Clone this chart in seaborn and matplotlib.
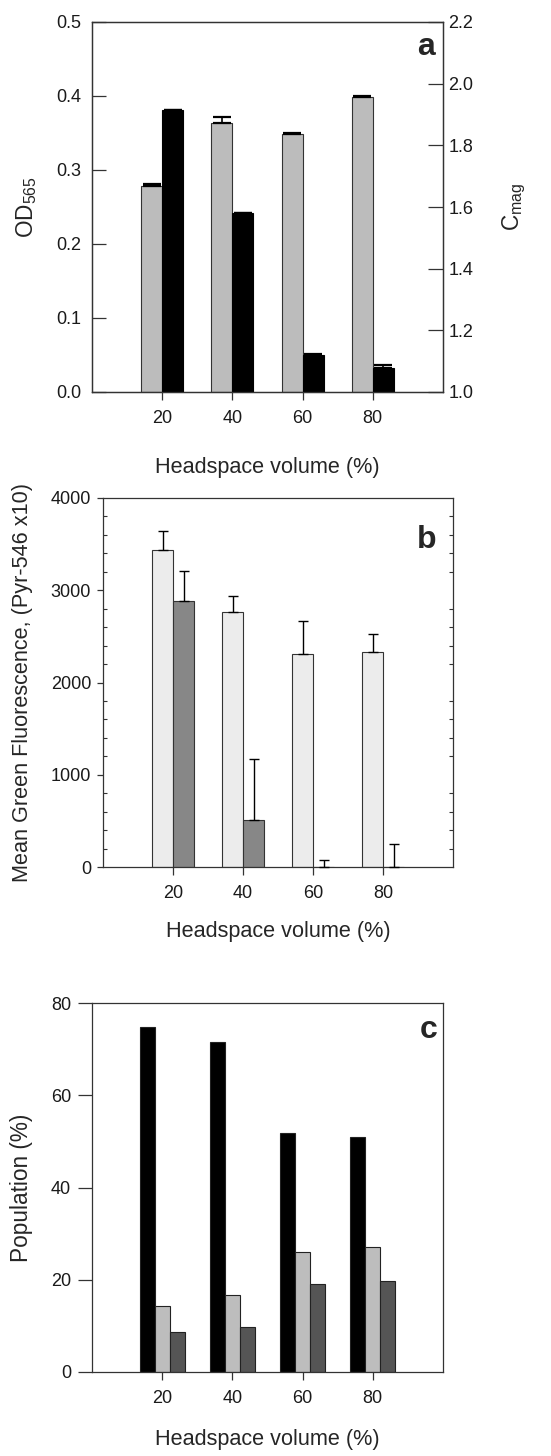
import numpy as np
import pandas as pd
import matplotlib
matplotlib.use("Agg")
import matplotlib.pyplot as plt
from matplotlib.ticker import MultipleLocator, FixedLocator
import seaborn as sns

# ---------------- data ----------------
volumes = [20, 40, 60, 80]

# panel a
od565 = [0.278, 0.363, 0.348, 0.398]
od565_err = [0.003, 0.008, 0.002, 0.002]
cmag = [1.913, 1.580, 1.120, 1.077]
cmag_err = [0.003, 0.002, 0.002, 0.012]

# panel b
fluor_light = [3440, 2761, 2309, 2331]
fluor_light_err = [199, 181, 362, 195]
fluor_dark = [2888, 506, 0, 0]
fluor_dark_err = [318, 669, 80, 253]

# panel c
pop_black = [74.9, 71.5, 51.8, 50.9]
pop_grey = [14.3, 16.8, 26.1, 27.2]
pop_dark = [8.6, 9.8, 19.1, 19.7]

xticks = [20, 40, 60, 80]
a_left_ticks = [0.0, 0.1, 0.2, 0.3, 0.4, 0.5]
a_right_ticks = [1.0, 1.2, 1.4, 1.6, 1.8, 2.0, 2.2]
b_ticks = [0, 1000, 2000, 3000, 4000]
c_ticks = [0, 20, 40, 60, 80]

xlabel = "Headspace volume (%)"

# ---------------- style ----------------
sns.set_style("white")
plt.rcParams['font.family'] = ['Liberation Sans', 'DejaVu Sans']
plt.rcParams['mathtext.default'] = 'regular'
SP = '#333333'
plt.rcParams['axes.edgecolor'] = SP
plt.rcParams['axes.linewidth'] = 0.9
plt.rcParams['xtick.color'] = SP
plt.rcParams['ytick.color'] = SP
plt.rcParams['xtick.labelcolor'] = '#1a1a1a'
plt.rcParams['ytick.labelcolor'] = '#1a1a1a'

fig = plt.figure(figsize=(5.51, 14.56), dpi=100)
ax_a = fig.add_axes([92/551, 1064/1456, 351/551, 370/1456])
ax_b = fig.add_axes([103/551, 589/1456, 350/551, 369/1456])
ax_c = fig.add_axes([92/551, 84/1456, 351/551, 369/1456])

TICK_FS = 13
XLAB_FS = 15.6
YLAB_FS = 16.3


def add_errs(ax, patches, errs, capsize, lw, capthick):
    xs = [p.get_x() + p.get_width() / 2 for p in patches]
    ys = [p.get_y() + p.get_height() for p in patches]
    ax.errorbar(xs, ys, yerr=[np.zeros(len(errs)), errs], fmt='none',
                ecolor='black', elinewidth=lw, capsize=capsize,
                capthick=capthick, zorder=5, clip_on=False)


# ---------------- panel a ----------------
a_order = ["OD", "Cmag"]
a_pal = {"OD": "#bcbcbc", "Cmag": "#000000"}
df_a_od = pd.DataFrame({"vol": volumes, "val": od565, "series": "OD"})
df_a_cm = pd.DataFrame({"vol": volumes, "val": cmag, "series": "Cmag"})

sns.barplot(data=df_a_od, x="vol", y="val", hue="series", hue_order=a_order,
            palette=a_pal, native_scale=True, width=0.6, dodge=True,
            errorbar=None, saturation=1, edgecolor='#333333', linewidth=0.8,
            legend=False, ax=ax_a)
od_patches = list(ax_a.patches)
ax_a2 = ax_a.twinx()
sns.barplot(data=df_a_cm, x="vol", y="val", hue="series", hue_order=a_order,
            palette=a_pal, native_scale=True, width=0.6, dodge=True,
            errorbar=None, saturation=1, edgecolor='#000000', linewidth=0.8,
            legend=False, ax=ax_a2)
cm_patches = list(ax_a2.patches)

add_errs(ax_a, od_patches, od565_err, 6.5, 1.2, 1.6)
add_errs(ax_a2, cm_patches, cmag_err, 6.5, 1.2, 1.6)

ax_a.set_xlim(0, 100)
ax_a.set_ylim(0, 0.5)
ax_a2.set_ylim(1.0, 2.2)
ax_a.xaxis.set_major_locator(FixedLocator(xticks))
ax_a.set_xticklabels([str(v) for v in xticks])
ax_a.yaxis.set_major_locator(FixedLocator(a_left_ticks))
ax_a.set_yticklabels([f"{v:.1f}" for v in a_left_ticks])
ax_a2.yaxis.set_major_locator(FixedLocator(a_right_ticks))
ax_a2.set_yticklabels([f"{v:.1f}" for v in a_right_ticks])
ax_a.tick_params(axis='x', direction='out', length=6, width=0.9, pad=7,
                 labelsize=TICK_FS, bottom=True)
ax_a.tick_params(axis='y', direction='in', length=10, width=0.9, pad=8,
                 labelsize=TICK_FS, left=True)
ax_a2.tick_params(axis='y', direction='in', length=11, width=0.9, pad=4,
                  labelsize=TICK_FS, right=True)
ax_a.set_xlabel(xlabel, fontsize=XLAB_FS)
ax_a.xaxis.set_label_coords(0.5, -0.175)
ax_a.set_ylabel("OD$_{565}$", fontsize=YLAB_FS)
ax_a.yaxis.set_label_coords(-0.152, 0.5)
ax_a2.set_ylabel("C$_{mag}$", fontsize=YLAB_FS)
ax_a2.yaxis.set_label_coords(1.163, 0.5)
ax_a2.set_xlabel("")
ax_a.text(0.977, 0.91, "a", transform=ax_a.transAxes, ha='right',
          va='baseline', fontsize=23, fontweight='bold')

# ---------------- panel b ----------------
b_order = ["light", "dark"]
b_pal = {"light": "#ececec", "dark": "#878787"}
df_b = pd.concat([
    pd.DataFrame({"vol": volumes, "val": fluor_light, "series": "light"}),
    pd.DataFrame({"vol": volumes, "val": fluor_dark, "series": "dark"}),
], ignore_index=True)
sns.barplot(data=df_b, x="vol", y="val", hue="series", hue_order=b_order,
            palette=b_pal, native_scale=True, width=0.6, dodge=True,
            errorbar=None, saturation=1, edgecolor='#333333', linewidth=0.8,
            legend=False, ax=ax_b)
b_patches = list(ax_b.patches)
add_errs(ax_b, b_patches[:4], fluor_light_err, 3.3, 1.0, 1.0)
add_errs(ax_b, b_patches[4:8], fluor_dark_err, 3.3, 1.0, 1.0)

ax_b.set_xlim(0, 100)
ax_b.set_ylim(0, 4000)
ax_b.xaxis.set_major_locator(FixedLocator(xticks))
ax_b.set_xticklabels([str(v) for v in xticks])
ax_b.yaxis.set_major_locator(FixedLocator(b_ticks))
ax_b.set_yticklabels([str(v) for v in b_ticks])
ax_b.yaxis.set_minor_locator(MultipleLocator(200))
ax_b.tick_params(axis='x', direction='out', length=6, width=0.9, pad=7,
                 labelsize=TICK_FS, bottom=True)
ax_b.tick_params(axis='y', which='major', direction='out', length=4.5,
                 width=0.9, pad=4, labelsize=TICK_FS, left=True, right=False)
ax_b.tick_params(axis='y', which='minor', direction='in', length=3,
                 width=0.8, left=True, right=True)
ax_b.set_xlabel(xlabel, fontsize=XLAB_FS)
ax_b.xaxis.set_label_coords(0.5, -0.147)
ax_b.set_ylabel("Mean Green Fluorescence, (Pyr-546 x10)", fontsize=15.6)
ax_b.yaxis.set_label_coords(-0.2, 0.5)
ax_b.text(0.954, 0.865, "b", transform=ax_b.transAxes, ha='right',
          va='baseline', fontsize=23, fontweight='bold')

# ---------------- panel c ----------------
c_order = ["black", "grey", "dark"]
c_pal = {"black": "#000000", "grey": "#bdbdbd", "dark": "#555555"}
df_c = pd.concat([
    pd.DataFrame({"vol": volumes, "val": pop_black, "series": "black"}),
    pd.DataFrame({"vol": volumes, "val": pop_grey, "series": "grey"}),
    pd.DataFrame({"vol": volumes, "val": pop_dark, "series": "dark"}),
], ignore_index=True)
sns.barplot(data=df_c, x="vol", y="val", hue="series", hue_order=c_order,
            palette=c_pal, native_scale=True, width=0.645, dodge=True,
            errorbar=None, saturation=1, edgecolor='#222222', linewidth=0.8,
            legend=False, ax=ax_c)
ax_c.set_xlim(0, 100)
ax_c.set_ylim(0, 80)
ax_c.xaxis.set_major_locator(FixedLocator(xticks))
ax_c.set_xticklabels([str(v) for v in xticks])
ax_c.yaxis.set_major_locator(FixedLocator(c_ticks))
ax_c.set_yticklabels([str(v) for v in c_ticks])
ax_c.tick_params(axis='x', direction='out', length=6, width=0.9, pad=7,
                 labelsize=TICK_FS, bottom=True)
ax_c.tick_params(axis='y', direction='out', length=10, width=0.9, pad=5,
                 labelsize=TICK_FS, left=True)
ax_c.set_xlabel(xlabel, fontsize=XLAB_FS)
ax_c.xaxis.set_label_coords(0.5, -0.155)
ax_c.set_ylabel("Population (%)", fontsize=YLAB_FS)
ax_c.yaxis.set_label_coords(-0.168, 0.5)
ax_c.text(0.983, 0.905, "c", transform=ax_c.transAxes, ha='right',
          va='baseline', fontsize=23, fontweight='bold')

for ax in (ax_a, ax_a2, ax_b, ax_c):
    for s in ax.spines.values():
        s.set_visible(True)
        s.set_color(SP)
        s.set_linewidth(0.9)

fig.savefig("out.png", dpi=100, facecolor='white')
